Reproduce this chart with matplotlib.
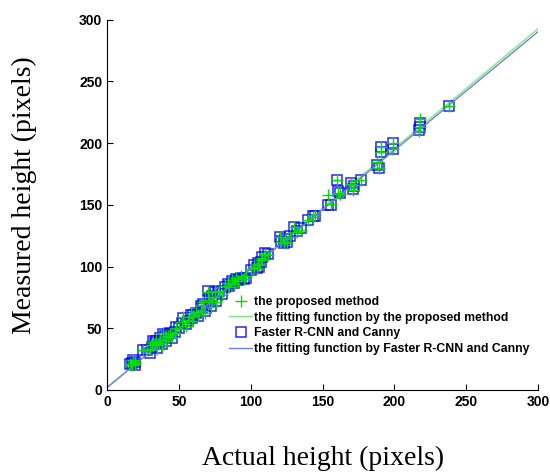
import numpy as np
import matplotlib
matplotlib.use('Agg')
import matplotlib.pyplot as plt

# Datos (pixeles)
actual = [16, 17, 18, 19, 19, 25, 28, 30, 31, 32, 33, 34, 35, 36, 37, 38, 39, 40, 41, 42,
          44, 45, 47, 48, 50, 52, 53, 55, 56, 58, 59, 60, 62, 63, 65, 66, 67, 68, 70, 71,
          72, 73, 75, 76, 78, 80, 82, 84, 85, 87, 88, 90, 91, 93, 95, 97, 100, 102, 104, 105,
          106, 107, 108, 110, 112, 120, 121, 123, 124, 125, 127, 130, 132, 135, 140, 143, 145,
          154, 156, 160, 161, 162, 170, 171, 172, 177, 188, 189, 191, 191, 199, 199, 218, 218,
          217, 238]
proposed = [21, 20, 24, 21, 23, 32, 32, 33, 36, 39, 37, 40, 33, 38, 41, 36, 46, 43, 40, 44,
            45, 43, 46, 50, 49, 55, 59, 52, 57, 62, 56, 60, 63, 61, 69, 64, 71, 62, 79, 73,
            67, 75, 80, 71, 79, 77, 84, 87, 83, 89, 86, 91, 88, 92, 90, 92, 98, 100, 99, 102,
            101, 105, 107, 110, 109, 124, 120, 120, 122, 119, 124, 132, 128, 130, 138, 140, 142,
            158, 151, 170, 160, 159, 167, 162, 166, 170, 185, 180, 197, 193, 200, 195, 220, 213,
            210, 230]
faster = [21, 22, 24, 20, 23, 32, 32, 30, 35, 40, 38, 40, 34, 39, 42, 37, 45, 44, 40, 45,
          46, 42, 47, 51, 50, 54, 58, 53, 56, 61, 58, 61, 62, 60, 68, 66, 70, 64, 80, 74,
          68, 76, 79, 72, 80, 78, 83, 86, 84, 88, 87, 90, 89, 91, 90, 91, 97, 101, 99, 103,
          100, 104, 108, 111, 110, 124, 121, 119, 122, 120, 125, 132, 129, 131, 138, 141, 141,
          150, 150, 170, 161, 160, 168, 163, 165, 170, 182, 180, 197, 193, 200, 195, 216, 213,
          211, 230]

# Coeficientes de las rectas ajustadas (pendiente, ordenada)
fit_proposed = (0.969, 2.0)
fit_faster = (0.961, 2.0)

plt.rcParams['font.family'] = ['Liberation Sans', 'DejaVu Sans']

fig = plt.figure(figsize=(5.5, 4.72), dpi=100)
ax = fig.add_axes([0.195, 0.174, 0.783, 0.784])

xf = np.array([0, 300])
ax.plot(actual, proposed, '+', color='#00e000', markersize=8, markeredgewidth=1.0,
        label='the proposed method', zorder=4)
ax.plot(xf, fit_proposed[0] * xf + fit_proposed[1], '-', color='#7fe87f', linewidth=1.0,
        label='the fitting function by the proposed method')
ax.plot(actual, faster, 's', markerfacecolor='none', markeredgecolor='#0000ff',
        markersize=7.5, markeredgewidth=1.1, alpha=0.85, label='Faster R-CNN and Canny')
ax.plot(xf, fit_faster[0] * xf + fit_faster[1], '-', color='#6f7fe8', linewidth=1.0,
        label='the fitting function by Faster R-CNN and Canny')

ax.set_xlim(0, 300)
ax.set_ylim(0, 300)
ax.set_xticks(range(0, 301, 50))
ax.set_yticks(range(0, 301, 50))
ax.spines['top'].set_visible(False)
ax.spines['right'].set_visible(False)
ax.tick_params(direction='in', length=4, labelsize=10)
for lbl in ax.get_xticklabels() + ax.get_yticklabels():
    lbl.set_fontweight('bold')

ax.set_xlabel('Actual height (pixels)', family='Liberation Serif', fontsize=20, labelpad=27)
ax.set_ylabel('Measured height (pixels)', family='Liberation Serif', fontsize=20)
ax.yaxis.set_label_coords(-0.162, 0.525)

leg = ax.legend(loc='upper left', bbox_to_anchor=(0.269, 0.27), frameon=False,
                prop={'weight': 'bold', 'size': 8.8}, handlelength=1.9, handletextpad=0.1,
                labelspacing=0.3, borderpad=0)

fig.savefig('out.png', dpi=100)
